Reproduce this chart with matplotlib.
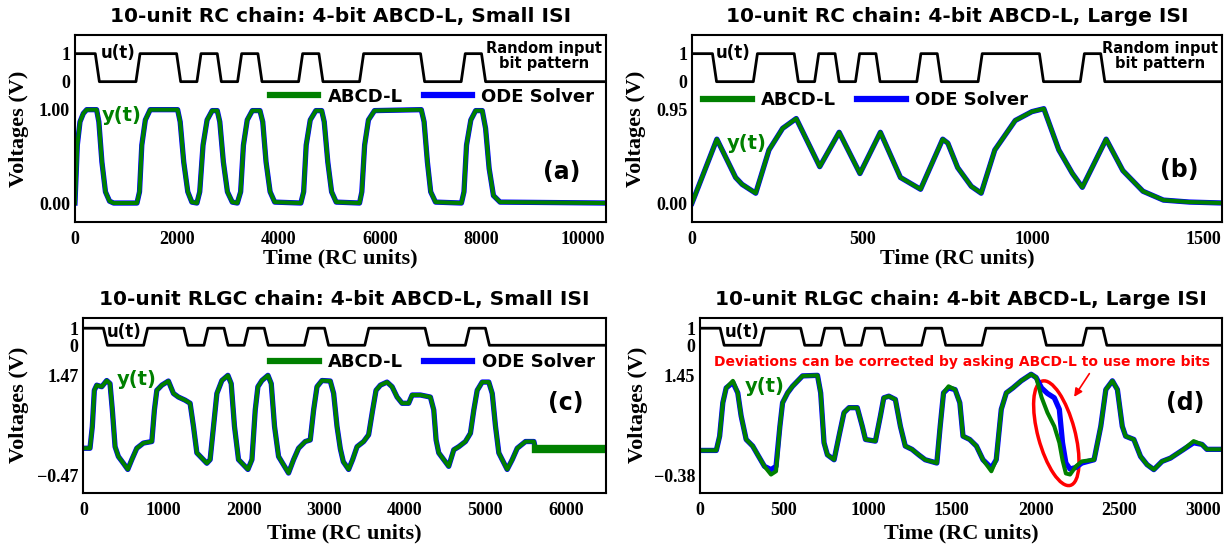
import numpy as np
import matplotlib
matplotlib.use('Agg')
import matplotlib.pyplot as plt
from matplotlib.patches import Ellipse
from matplotlib.transforms import ScaledTranslation

# random input bit pattern (same for all four panels)
bits = [1, 0, 0, 1, 1, 0, 1, 0, 1, 0, 0, 1, 0, 0, 1, 1, 1, 0, 0, 1, 0]

# (a) RC chain, small ISI  (bit period 400)
t_a = [0, 46, 99, 165, 231, 425, 470, 530, 600, 680, 760,
       1220, 1270, 1315, 1385, 1480, 2020, 2070, 2140, 2220, 2300, 2400,
       2455, 2520, 2600, 2700, 2800, 2850, 2920, 3000, 3095, 3195,
       3260, 3315, 3390, 3490, 3640, 3695, 3760, 3840, 3930, 4445,
       4500, 4550, 4630, 4740, 4855, 4905, 4975, 5050, 5140, 5600,
       5645, 5700, 5775, 5895, 6815, 6870, 6935, 7000, 7095, 7605,
       7655, 7705, 7790, 7885, 8015, 8080, 8150, 8235, 8365, 10450]
y_a = [0, 0.62, 0.87, 0.96, 1.0, 1.0, 0.87, 0.44, 0.12, 0.02, 0,
       0, 0.12, 0.62, 0.89, 1.0, 1.0, 0.87, 0.44, 0.12, 0.01, 0,
       0.12, 0.62, 0.89, 0.99, 0.99, 0.87, 0.44, 0.12, 0.01, 0,
       0.12, 0.62, 0.89, 0.99, 0.99, 0.87, 0.44, 0.12, 0.01, 0,
       0.12, 0.62, 0.89, 0.99, 0.99, 0.87, 0.44, 0.12, 0.01, 0,
       0.12, 0.62, 0.89, 0.99, 1.0, 0.87, 0.44, 0.12, 0.01, 0,
       0.12, 0.62, 0.89, 0.99, 0.99, 0.80, 0.37, 0.08, 0.01, 0]

# (b) RC chain, large ISI  (bit period 60)
t_b = [0, 73, 128, 147, 187, 226, 266, 306, 375, 432, 493, 553, 612, 671,
       736, 751, 780, 820, 849, 889, 949, 998, 1033, 1077, 1117, 1146,
       1216, 1265, 1324, 1384, 1460, 1560]
y_b = [0.00, 0.65, 0.26, 0.19, 0.10, 0.54, 0.76, 0.86, 0.37, 0.72, 0.30,
       0.72, 0.26, 0.14, 0.65, 0.61, 0.36, 0.17, 0.10, 0.54, 0.84, 0.93,
       0.96, 0.54, 0.30, 0.16, 0.65, 0.33, 0.12, 0.03, 0.01, 0.00]

# (c) RLGC chain, small ISI  (bit period 250)
t_c = [0, 83, 112, 137, 167, 229, 291, 332, 361, 395,
       436, 498, 553, 603, 665, 747, 852, 884, 914, 976,
       1058, 1121, 1183, 1266, 1328, 1370, 1412, 1474, 1536, 1577,
       1619, 1661, 1723, 1798, 1839, 1880, 1930, 1992, 2047, 2097,
       2138, 2171, 2221, 2296, 2337, 2378, 2428, 2490, 2552, 2615,
       2677, 2760, 2822, 2864, 2906, 2968, 3071, 3113, 3155, 3196,
       3233, 3299, 3349, 3404, 3486, 3548, 3598, 3640, 3694, 3777,
       3840, 3902, 3964, 4046, 4089, 4192, 4316, 4358, 4387, 4420,
       4482, 4544, 4607, 4669, 4752, 4814, 4856, 4898, 4960, 5042,
       5085, 5126, 5167, 5209, 5271, 5334, 5396, 5499, 5603, 5624,
       6500]
y_c = [0.06, 0.06, 0.48, 1.18, 1.28, 1.25, 1.37, 1.31, 0.80, 0.09,
       -0.10, -0.23, -0.35, -0.16, 0.06, 0.16, 0.19, 0.80, 1.18, 1.28,
       1.36, 1.12, 1.05, 0.99, 0.93, 0.48, -0.03, -0.13, -0.23, -0.16,
       0.48, 1.12, 1.37, 1.47, 1.31, 0.48, -0.16, -0.26, -0.35, -0.16,
       0.80, 1.25, 1.37, 1.47, 1.31, 0.48, -0.10, -0.26, -0.42, -0.16,
       0.06, 0.19, 0.22, 0.80, 1.25, 1.37, 1.36, 1.12, 0.48, 0.05,
       -0.20, -0.35, -0.16, 0.09, 0.19, 0.32, 0.80, 1.18, 1.28, 1.34,
       1.25, 1.05, 0.93, 0.93, 1.09, 1.09, 1.05, 0.80, 0.22, -0.03,
       -0.16, -0.29, 0.03, 0.09, 0.19, 0.35, 0.80, 1.18, 1.34, 1.34,
       1.12, 0.48, -0.03, -0.16, -0.35, -0.16, 0.06, 0.19, 0.19, 0.04,
       0.04]

# (d) RLGC chain, large ISI  (bit period 120)
t_d = [0, 97, 117, 136, 156, 196, 225, 245, 275, 314,
       344, 384, 423, 453, 476, 492, 522, 551, 611, 700,
       719, 739, 759, 799, 828, 858, 888, 937, 967, 986,
       1045, 1075, 1095, 1125, 1164, 1194, 1223, 1263, 1303, 1342,
       1411, 1431, 1451, 1481, 1520, 1548, 1567, 1607, 1647, 1686,
       1736, 1765, 1795, 1825, 1864, 1914, 1973, 2003, 2035, 2070,
       2111, 2141, 2160, 2180, 2205, 2240, 2275, 2348, 2388, 2418,
       2457, 2487, 2516, 2536, 2585, 2625, 2664, 2704, 2753, 2803,
       2882, 2941, 2991, 3020, 3110]
ode_d = [0.08, 0.08, 0.34, 0.95, 1.22, 1.32, 1.13, 0.71, 0.28, 0.16,
         0.00, -0.21, -0.27, -0.21, 0.52, 0.95, 1.13, 1.25, 1.44, 1.45,
         1.13, 0.22, 0.00, -0.09, 0.34, 0.77, 0.86, 0.86, 0.52, 0.28,
         0.25, 0.71, 1.04, 1.07, 1.01, 0.52, 0.16, 0.10, 0.00, -0.09,
         -0.15, 0.52, 1.13, 1.22, 1.19, 0.95, 0.34, 0.28, 0.16, -0.09,
         -0.24, -0.09, 0.83, 1.13, 1.22, 1.35, 1.47, 1.41, 1.22, 1.12,
         1.04, 0.83, 0.22, -0.15, -0.26, -0.23, -0.15, -0.09, 0.52, 1.19,
         1.35, 1.19, 0.52, 0.34, 0.28, -0.03, -0.18, -0.27, -0.12, -0.06,
         0.10, 0.22, 0.19, 0.10, 0.10]
abcd_d = [0.08, 0.08, 0.34, 0.95, 1.22, 1.35, 1.13, 0.71, 0.28, 0.16,
          0.00, -0.21, -0.36, -0.30, 0.52, 0.95, 1.13, 1.25, 1.44, 1.45,
          1.13, 0.22, 0.00, -0.09, 0.34, 0.77, 0.86, 0.86, 0.52, 0.28,
          0.25, 0.71, 1.04, 1.07, 1.01, 0.52, 0.16, 0.10, 0.00, -0.09,
          -0.15, 0.52, 1.13, 1.25, 1.19, 0.95, 0.34, 0.28, 0.16, -0.09,
          -0.30, -0.09, 0.83, 1.13, 1.22, 1.35, 1.47, 1.41, 1.05, 0.77,
          0.52, 0.22, -0.10, -0.34, -0.36, -0.21, -0.12, -0.09, 0.52, 1.19,
          1.35, 1.19, 0.52, 0.34, 0.28, -0.03, -0.18, -0.27, -0.12, -0.06,
          0.10, 0.25, 0.19, 0.10, 0.10]

SERIF = 'Liberation Serif'
GREEN = '#008000'
BLUE = '#0000ff'

panels = [
    dict(rect=[0.0611, 0.5969, 0.4328, 0.3395], t=t_a, ode=y_a, abcd=y_a, period=400,
         xmax=10450, xticks=range(0, 10001, 2000), ylo=0.0, yhi=1.0, ylab=['0.00', '1.00'],
         nlim=(-0.2, 1.8), du=0.3, title='10-unit RC chain: 4-bit ABCD-L, Small ISI',
         tag='(a)', tagpos=(0.917, 0.268), upos=(0.081, 0.904), ypos=(0.088, 0.571),
         leg=('center right', (0.978, 0.67)), rnd=(0.884, 0.89), ylx=-0.086, xly=-0.141),
    dict(rect=[0.564, 0.5969, 0.4319, 0.3395], t=t_b, ode=y_b, abcd=y_b, period=60,
         xmax=1556, xticks=range(0, 1501, 500), ylo=0.0, yhi=0.95, ylab=['0.00', '0.95'],
         nlim=(-0.2, 1.8), du=0.3, title='10-unit RC chain: 4-bit ABCD-L, Large ISI',
         tag='(b)', tagpos=(0.92, 0.277), upos=(0.078, 0.904), ypos=(0.104, 0.42),
         leg=('center left', (0.021, 0.652)), rnd=(0.883, 0.89), ylx=-0.0875, xly=-0.141),
    dict(rect=[0.0679, 0.1042, 0.426, 0.3182], t=t_c, ode=y_c, abcd=y_c, period=250,
         xmax=6500, xticks=range(0, 6001, 1000), ylo=-0.47, yhi=1.47, ylab=['\u22120.47', '1.47'],
         nlim=(-0.17, 1.575), du=0.17, title='10-unit RLGC chain: 4-bit ABCD-L, Small ISI',
         tag='(c)', tagpos=(0.923, 0.511), upos=(0.078, 0.92), ypos=(0.103, 0.644),
         leg=('center right', (0.978, 0.745)), rnd=None, ylx=-0.103, xly=-0.177),
    dict(rect=[0.5705, 0.1042, 0.4254, 0.3182], t=t_d, ode=ode_d, abcd=abcd_d, period=120,
         xmax=3110, xticks=range(0, 3001, 500), ylo=-0.38, yhi=1.45, ylab=['\u22120.38', '1.45'],
         nlim=(-0.17, 1.575), du=0.17, title='10-unit RLGC chain: 4-bit ABCD-L, Large ISI',
         tag='(d)', tagpos=(0.93, 0.511), upos=(0.08, 0.917), ypos=(0.123, 0.606),
         leg=None, rnd=None, ylx=-0.1004, xly=-0.177),
]

fig = plt.figure(figsize=(12.27, 5.5), dpi=100)
axes = []

for p in panels:
    ax = fig.add_axes(p['rect'])
    axes.append(ax)
    span = p['yhi'] - p['ylo']
    u0 = p['ylo'] + 1.3 * span
    u1 = p['ylo'] + (1.3 + p['du']) * span

    # input bit pattern with short ramps between bits
    T = p['period']
    ramp = 0.2 * T
    tu = [0]
    uu = [bits[0]]
    for i, b in enumerate(bits):
        if i > 0:
            tu.append(i * T + ramp)
            uu.append(b)
        tu.append((i + 1) * T)
        uu.append(b)
    tu.append(p['xmax'])
    uu.append(bits[-1])
    uu = np.array(uu, dtype=float)
    ax.plot(tu, u0 + uu * (u1 - u0), color='black', lw=2.0)

    blue, = ax.plot(p['t'], p['ode'], color=BLUE, lw=3.8, label='ODE Solver')
    green, = ax.plot(p['t'], p['abcd'], color=GREEN, lw=2.9, label='ABCD-L')

    ax.set_xlim(0, p['xmax'])
    ax.set_ylim(p['ylo'] + p['nlim'][0] * span, p['ylo'] + p['nlim'][1] * span)
    ax.set_xticks(list(p['xticks']), labels=[str(v) for v in p['xticks']],
                  fontfamily=SERIF, fontweight='bold', fontsize=13)
    ax.set_yticks([p['ylo'], p['yhi'], u0, u1], labels=p['ylab'] + ['0', '1'],
                  fontfamily=SERIF, fontweight='bold', fontsize=13)
    ax.tick_params(axis='x', length=0, pad=7)
    ax.tick_params(axis='y', length=0, pad=3.5)
    for s in ax.spines.values():
        s.set_linewidth(1.5)

    ax.set_title(p['title'], fontsize=14.5, fontweight='bold', pad=9)
    ax.set_xlabel('Time (RC units)', fontfamily=SERIF, fontweight='bold', fontsize=16)
    ax.set_ylabel('Voltages (V)', fontfamily=SERIF, fontweight='bold', fontsize=16)
    ax.xaxis.set_label_coords(0.5, p['xly'])
    ax.yaxis.set_label_coords(p['ylx'], 0.5)

    ax.text(*p['upos'], 'u(t)', transform=ax.transAxes, fontsize=12, fontweight='bold',
            ha='center', va='center')
    ax.text(*p['ypos'], 'y(t)', transform=ax.transAxes, fontsize=14, fontweight='bold',
            color=GREEN, ha='center', va='center')
    ax.text(*p['tagpos'], p['tag'], transform=ax.transAxes, fontsize=17, fontweight='bold',
            ha='center', va='center')
    if p['rnd'] is not None:
        ax.text(*p['rnd'], 'Random input\nbit pattern', transform=ax.transAxes, fontsize=10.5,
                fontweight='bold', ha='center', va='center', multialignment='center',
                linespacing=1.0)
    if p['leg'] is not None:
        leg = ax.legend(handles=[green, blue], loc=p['leg'][0], bbox_to_anchor=p['leg'][1],
                        ncol=2, frameon=False, borderpad=0, borderaxespad=0,
                        handlelength=2.7, handletextpad=0.5, columnspacing=1.17,
                        prop=dict(weight='bold', size=13))
        for ln in leg.get_lines():
            ln.set_linewidth(4.5)

# panel (c): ABCD-L chatters between two levels once the input settles
axc = axes[2]
tail = [i for i, tt in enumerate(t_c) if tt >= 5624]
axc.plot([t_c[i] for i in tail], [y_c[i] for i in tail], color=GREEN, lw=6)

# panel (d): annotation of the deviation
axd = axes[3]
axd.text(0.502, 0.749, 'Deviations can be corrected by asking ABCD-L to use more bits',
         transform=axd.transAxes, color='red', fontsize=10, fontweight='bold',
         ha='center', va='center')
ell = Ellipse((0, 0), 0.37, 1.08, angle=15, fill=False, edgecolor='red', lw=2.5,
              transform=fig.dpi_scale_trans + ScaledTranslation(2123, 0.394, axd.transData),
              clip_on=False)
axd.add_patch(ell)
axd.annotate('', xy=(2220, 1.015), xytext=(2329, 1.524),
             arrowprops=dict(arrowstyle='-|>', color='red', lw=1.2, mutation_scale=12))

fig.savefig('out.png', dpi=100)
